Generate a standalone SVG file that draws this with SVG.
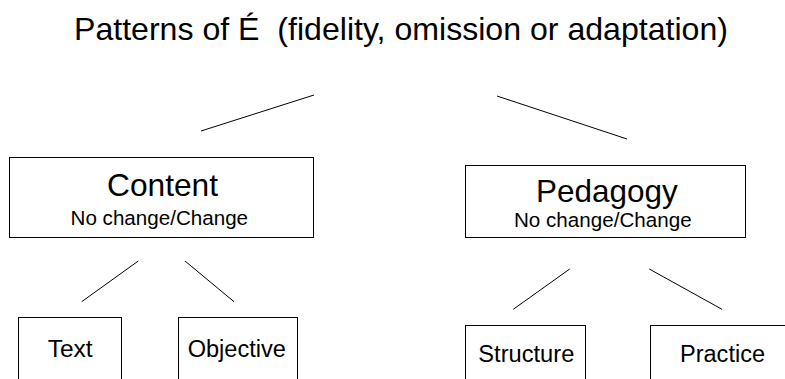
<svg xmlns="http://www.w3.org/2000/svg" width="785" height="379" viewBox="0 0 785 379">
  <style>
    text { font-family: "Liberation Sans", Arial, sans-serif; fill: #000; text-anchor: middle; }
    .box { fill: #fff; stroke: #000; stroke-width: 1; }
    .link { stroke: #000; stroke-width: 1; fill: none; }
    .title { font-size: 32px; }
    .head { font-size: 31.5px; }
    .sub { font-size: 20.5px; }
    .leaf { font-size: 23.5px; }
  </style>
  <rect width="785" height="379" fill="#fff"/>

  <text class="title" x="401" y="40" textLength="654" lengthAdjust="spacingAndGlyphs" xml:space="preserve">Patterns of É  (fidelity, omission or adaptation)</text>

  <g id="connectors">
    <line class="link" x1="201" y1="131" x2="314" y2="95"/>
    <line class="link" x1="497" y1="96" x2="627" y2="139"/>
    <line class="link" x1="81.7" y1="301.7" x2="138.3" y2="261"/>
    <line class="link" x1="185" y1="261" x2="234" y2="301.7"/>
    <line class="link" x1="513.3" y1="309.3" x2="569.7" y2="269"/>
    <line class="link" x1="649.3" y1="269" x2="722" y2="309.3"/>
  </g>

  <g id="content">
    <rect class="box" x="9.5" y="157.5" width="304" height="80"/>
    <text class="head" x="162.5" y="196" textLength="111" lengthAdjust="spacingAndGlyphs">Content</text>
    <text class="sub" x="159.3" y="225" textLength="177.5" lengthAdjust="spacingAndGlyphs">No change/Change</text>
  </g>

  <g id="pedagogy">
    <rect class="box" x="465.5" y="165.5" width="280" height="72"/>
    <text class="head" x="606.8" y="201.7" textLength="141.7" lengthAdjust="spacingAndGlyphs">Pedagogy</text>
    <text class="sub" x="602.8" y="226.7" textLength="177.7" lengthAdjust="spacingAndGlyphs">No change/Change</text>
  </g>

  <g id="text">
    <rect class="box" x="18.5" y="317.5" width="103" height="80"/>
    <text class="leaf" x="70.2" y="356.7" textLength="45" lengthAdjust="spacingAndGlyphs">Text</text>
  </g>

  <g id="objective">
    <rect class="box" x="178.5" y="317.5" width="119" height="80"/>
    <text class="leaf" x="236.8" y="356.7" textLength="98.3" lengthAdjust="spacingAndGlyphs">Objective</text>
  </g>

  <g id="structure">
    <rect class="box" x="465.5" y="325.5" width="120" height="80"/>
    <text class="leaf" x="526.3" y="361.7" textLength="96" lengthAdjust="spacingAndGlyphs">Structure</text>
  </g>

  <g id="practice">
    <rect class="box" x="650.5" y="325.5" width="150" height="80"/>
    <text class="leaf" x="722.5" y="361.7" textLength="85" lengthAdjust="spacingAndGlyphs">Practice</text>
  </g>
</svg>
